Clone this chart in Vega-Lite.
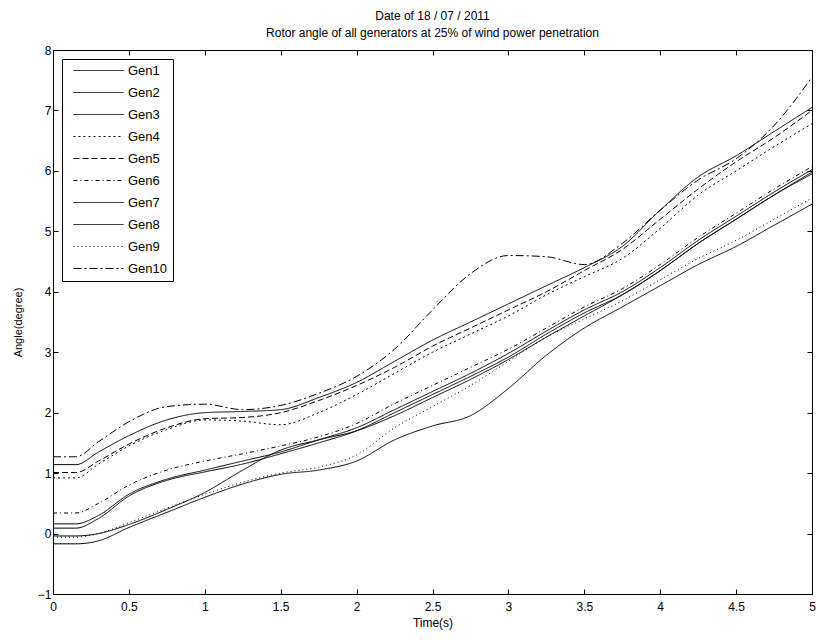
{
  "$schema": "https://vega.github.io/schema/vega-lite/v6.json",
  "width": 759,
  "height": 544,
  "autosize": "none",
  "padding": {"left": 53, "top": 50, "right": 4, "bottom": 46},
  "background": "white",
  "title": {
    "text": ["Date of 18 / 07 / 2011", "Rotor angle of all generators at 25% of wind power penetration"],
    "fontSize": 12, "fontWeight": "normal", "font": "Liberation Sans", "color": "black",
    "lineHeight": 17, "offset": 4, "anchor": "middle"
  },
  "config": {
    "view": {"stroke": "black", "strokeWidth": 1},
    "axis": {
      "domain": false, "grid": false, "tickColor": "black", "tickSize": -5, "tickWidth": 1,
      "labelFont": "Liberation Sans", "labelFontSize": 12, "labelColor": "black",
      "titleFont": "Liberation Sans", "titleFontSize": 12, "titleFontWeight": "normal", "titleColor": "black"
    }
  },
  "data": {"values": [
    {"g":"Gen1","t":0,"v":1.14},{"g":"Gen1","t":0.15,"v":1.14},{"g":"Gen1","t":0.3,"v":1.35},{"g":"Gen1","t":0.5,"v":1.62},{"g":"Gen1","t":0.75,"v":1.88},{"g":"Gen1","t":1,"v":2.0},{"g":"Gen1","t":1.25,"v":2.02},{"g":"Gen1","t":1.5,"v":2.05},{"g":"Gen1","t":1.75,"v":2.25},{"g":"Gen1","t":2,"v":2.5},{"g":"Gen1","t":2.25,"v":2.85},{"g":"Gen1","t":2.5,"v":3.2},{"g":"Gen1","t":2.75,"v":3.5},{"g":"Gen1","t":3,"v":3.8},{"g":"Gen1","t":3.25,"v":4.1},{"g":"Gen1","t":3.5,"v":4.4},{"g":"Gen1","t":3.75,"v":4.75},{"g":"Gen1","t":4,"v":5.35},{"g":"Gen1","t":4.25,"v":5.9},{"g":"Gen1","t":4.5,"v":6.25},{"g":"Gen1","t":4.75,"v":6.65},{"g":"Gen1","t":5,"v":7.05},
    {"g":"Gen2","t":0,"v":0.16},{"g":"Gen2","t":0.15,"v":0.16},{"g":"Gen2","t":0.3,"v":0.3},{"g":"Gen2","t":0.5,"v":0.65},{"g":"Gen2","t":0.75,"v":0.9},{"g":"Gen2","t":1,"v":1.05},{"g":"Gen2","t":1.25,"v":1.2},{"g":"Gen2","t":1.5,"v":1.35},{"g":"Gen2","t":1.75,"v":1.55},{"g":"Gen2","t":2,"v":1.75},{"g":"Gen2","t":2.25,"v":2.05},{"g":"Gen2","t":2.5,"v":2.35},{"g":"Gen2","t":2.75,"v":2.65},{"g":"Gen2","t":3,"v":2.98},{"g":"Gen2","t":3.25,"v":3.35},{"g":"Gen2","t":3.5,"v":3.7},{"g":"Gen2","t":3.75,"v":4.0},{"g":"Gen2","t":4,"v":4.4},{"g":"Gen2","t":4.25,"v":4.85},{"g":"Gen2","t":4.5,"v":5.25},{"g":"Gen2","t":4.75,"v":5.65},{"g":"Gen2","t":5,"v":6.02},
    {"g":"Gen3","t":0,"v":0.09},{"g":"Gen3","t":0.15,"v":0.09},{"g":"Gen3","t":0.3,"v":0.25},{"g":"Gen3","t":0.5,"v":0.62},{"g":"Gen3","t":0.75,"v":0.88},{"g":"Gen3","t":1,"v":1.02},{"g":"Gen3","t":1.25,"v":1.15},{"g":"Gen3","t":1.5,"v":1.32},{"g":"Gen3","t":1.75,"v":1.5},{"g":"Gen3","t":2,"v":1.7},{"g":"Gen3","t":2.25,"v":2.0},{"g":"Gen3","t":2.5,"v":2.3},{"g":"Gen3","t":2.75,"v":2.6},{"g":"Gen3","t":3,"v":2.92},{"g":"Gen3","t":3.25,"v":3.3},{"g":"Gen3","t":3.5,"v":3.65},{"g":"Gen3","t":3.75,"v":3.95},{"g":"Gen3","t":4,"v":4.35},{"g":"Gen3","t":4.25,"v":4.8},{"g":"Gen3","t":4.5,"v":5.2},{"g":"Gen3","t":4.75,"v":5.6},{"g":"Gen3","t":5,"v":5.98},
    {"g":"Gen4","t":0,"v":0.92},{"g":"Gen4","t":0.15,"v":0.92},{"g":"Gen4","t":0.3,"v":1.15},{"g":"Gen4","t":0.5,"v":1.45},{"g":"Gen4","t":0.75,"v":1.72},{"g":"Gen4","t":1,"v":1.88},{"g":"Gen4","t":1.25,"v":1.86},{"g":"Gen4","t":1.5,"v":1.8},{"g":"Gen4","t":1.75,"v":2.0},{"g":"Gen4","t":2,"v":2.3},{"g":"Gen4","t":2.25,"v":2.65},{"g":"Gen4","t":2.5,"v":3.0},{"g":"Gen4","t":2.75,"v":3.3},{"g":"Gen4","t":3,"v":3.6},{"g":"Gen4","t":3.25,"v":3.95},{"g":"Gen4","t":3.5,"v":4.25},{"g":"Gen4","t":3.75,"v":4.55},{"g":"Gen4","t":4,"v":5.05},{"g":"Gen4","t":4.25,"v":5.6},{"g":"Gen4","t":4.5,"v":6.0},{"g":"Gen4","t":4.75,"v":6.4},{"g":"Gen4","t":5,"v":6.78},
    {"g":"Gen5","t":0,"v":1.01},{"g":"Gen5","t":0.15,"v":1.01},{"g":"Gen5","t":0.3,"v":1.2},{"g":"Gen5","t":0.5,"v":1.48},{"g":"Gen5","t":0.75,"v":1.75},{"g":"Gen5","t":1,"v":1.9},{"g":"Gen5","t":1.25,"v":1.92},{"g":"Gen5","t":1.5,"v":2.0},{"g":"Gen5","t":1.75,"v":2.2},{"g":"Gen5","t":2,"v":2.45},{"g":"Gen5","t":2.25,"v":2.75},{"g":"Gen5","t":2.5,"v":3.1},{"g":"Gen5","t":2.75,"v":3.4},{"g":"Gen5","t":3,"v":3.7},{"g":"Gen5","t":3.25,"v":4.0},{"g":"Gen5","t":3.5,"v":4.35},{"g":"Gen5","t":3.75,"v":4.7},{"g":"Gen5","t":4,"v":5.2},{"g":"Gen5","t":4.25,"v":5.7},{"g":"Gen5","t":4.5,"v":6.15},{"g":"Gen5","t":4.75,"v":6.55},{"g":"Gen5","t":5,"v":7.0},
    {"g":"Gen6","t":0,"v":0.34},{"g":"Gen6","t":0.15,"v":0.34},{"g":"Gen6","t":0.3,"v":0.5},{"g":"Gen6","t":0.5,"v":0.8},{"g":"Gen6","t":0.75,"v":1.05},{"g":"Gen6","t":1,"v":1.2},{"g":"Gen6","t":1.25,"v":1.32},{"g":"Gen6","t":1.5,"v":1.45},{"g":"Gen6","t":1.75,"v":1.6},{"g":"Gen6","t":2,"v":1.82},{"g":"Gen6","t":2.25,"v":2.15},{"g":"Gen6","t":2.5,"v":2.45},{"g":"Gen6","t":2.75,"v":2.75},{"g":"Gen6","t":3,"v":3.05},{"g":"Gen6","t":3.25,"v":3.4},{"g":"Gen6","t":3.5,"v":3.75},{"g":"Gen6","t":3.75,"v":4.05},{"g":"Gen6","t":4,"v":4.45},{"g":"Gen6","t":4.25,"v":4.9},{"g":"Gen6","t":4.5,"v":5.3},{"g":"Gen6","t":4.75,"v":5.7},{"g":"Gen6","t":5,"v":6.07},
    {"g":"Gen7","t":0,"v":-0.04},{"g":"Gen7","t":0.15,"v":-0.04},{"g":"Gen7","t":0.3,"v":0.0},{"g":"Gen7","t":0.5,"v":0.15},{"g":"Gen7","t":0.75,"v":0.4},{"g":"Gen7","t":1,"v":0.68},{"g":"Gen7","t":1.25,"v":1.05},{"g":"Gen7","t":1.5,"v":1.38},{"g":"Gen7","t":1.75,"v":1.55},{"g":"Gen7","t":2,"v":1.7},{"g":"Gen7","t":2.25,"v":1.95},{"g":"Gen7","t":2.5,"v":2.25},{"g":"Gen7","t":2.75,"v":2.55},{"g":"Gen7","t":3,"v":2.88},{"g":"Gen7","t":3.25,"v":3.25},{"g":"Gen7","t":3.5,"v":3.6},{"g":"Gen7","t":3.75,"v":3.95},{"g":"Gen7","t":4,"v":4.35},{"g":"Gen7","t":4.25,"v":4.8},{"g":"Gen7","t":4.5,"v":5.2},{"g":"Gen7","t":4.75,"v":5.6},{"g":"Gen7","t":5,"v":5.95},
    {"g":"Gen8","t":0,"v":-0.17},{"g":"Gen8","t":0.15,"v":-0.17},{"g":"Gen8","t":0.3,"v":-0.12},{"g":"Gen8","t":0.5,"v":0.1},{"g":"Gen8","t":0.75,"v":0.35},{"g":"Gen8","t":1,"v":0.6},{"g":"Gen8","t":1.25,"v":0.82},{"g":"Gen8","t":1.5,"v":0.98},{"g":"Gen8","t":1.75,"v":1.05},{"g":"Gen8","t":2,"v":1.2},{"g":"Gen8","t":2.25,"v":1.55},{"g":"Gen8","t":2.5,"v":1.78},{"g":"Gen8","t":2.75,"v":1.95},{"g":"Gen8","t":3,"v":2.4},{"g":"Gen8","t":3.25,"v":2.95},{"g":"Gen8","t":3.5,"v":3.4},{"g":"Gen8","t":3.75,"v":3.75},{"g":"Gen8","t":4,"v":4.1},{"g":"Gen8","t":4.25,"v":4.45},{"g":"Gen8","t":4.5,"v":4.75},{"g":"Gen8","t":4.75,"v":5.1},{"g":"Gen8","t":5,"v":5.45},
    {"g":"Gen9","t":0,"v":-0.06},{"g":"Gen9","t":0.15,"v":-0.06},{"g":"Gen9","t":0.3,"v":0.0},{"g":"Gen9","t":0.5,"v":0.18},{"g":"Gen9","t":0.75,"v":0.42},{"g":"Gen9","t":1,"v":0.65},{"g":"Gen9","t":1.25,"v":0.85},{"g":"Gen9","t":1.5,"v":1.0},{"g":"Gen9","t":1.75,"v":1.1},{"g":"Gen9","t":2,"v":1.3},{"g":"Gen9","t":2.25,"v":1.75},{"g":"Gen9","t":2.5,"v":2.1},{"g":"Gen9","t":2.75,"v":2.45},{"g":"Gen9","t":3,"v":2.85},{"g":"Gen9","t":3.25,"v":3.25},{"g":"Gen9","t":3.5,"v":3.55},{"g":"Gen9","t":3.75,"v":3.85},{"g":"Gen9","t":4,"v":4.2},{"g":"Gen9","t":4.25,"v":4.55},{"g":"Gen9","t":4.5,"v":4.85},{"g":"Gen9","t":4.75,"v":5.2},{"g":"Gen9","t":5,"v":5.55},
    {"g":"Gen10","t":0,"v":1.27},{"g":"Gen10","t":0.15,"v":1.27},{"g":"Gen10","t":0.3,"v":1.52},{"g":"Gen10","t":0.5,"v":1.85},{"g":"Gen10","t":0.75,"v":2.1},{"g":"Gen10","t":1,"v":2.14},{"g":"Gen10","t":1.25,"v":2.05},{"g":"Gen10","t":1.5,"v":2.12},{"g":"Gen10","t":1.75,"v":2.32},{"g":"Gen10","t":2,"v":2.6},{"g":"Gen10","t":2.25,"v":3.05},{"g":"Gen10","t":2.5,"v":3.7},{"g":"Gen10","t":2.75,"v":4.3},{"g":"Gen10","t":3,"v":4.6},{"g":"Gen10","t":3.25,"v":4.58},{"g":"Gen10","t":3.5,"v":4.45},{"g":"Gen10","t":3.75,"v":4.8},{"g":"Gen10","t":4,"v":5.35},{"g":"Gen10","t":4.25,"v":5.85},{"g":"Gen10","t":4.5,"v":6.2},{"g":"Gen10","t":4.75,"v":6.75},{"g":"Gen10","t":5,"v":7.55}
  ]},
  "layer": [
    {
      "mark": {"type": "line", "interpolate": "monotone", "color": "black", "strokeWidth": 1},
      "encoding": {
        "x": {"field": "t", "type": "quantitative", "scale": {"domain": [0, 5], "nice": false, "zero": false},
          "axis": {"orient": "bottom", "values": [0,0.5,1,1.5,2,2.5,3,3.5,4,4.5,5], "format": "~g", "labelPadding": 12, "title": "Time(s)", "titlePadding": 5, "labelFlush": false}},
        "y": {"field": "v", "type": "quantitative", "scale": {"domain": [-1, 8], "nice": false, "zero": false},
          "axis": {"orient": "left", "values": [-1,0,1,2,3,4,5,6,7,8], "labelPadding": 7, "title": "Angle(degree)", "titlePadding": 14, "titleFontSize": 11, "labelFlush": false}},
        "strokeDash": {"field": "g", "type": "nominal",
          "scale": {"domain": ["Gen1","Gen2","Gen3","Gen4","Gen5","Gen6","Gen7","Gen8","Gen9","Gen10"],
            "range": [[1,0],[1,0],[1,0],[2,3],[6,3],[4,3,1,3],[1,0],[1,0],[1,3],[8,3,2,3]]},
          "legend": {"orient": "none", "legendX": 9, "legendY": 9, "title": null,
            "strokeColor": "black", "fillColor": "white", "padding": 5,
            "symbolType": "M0,0H10", "symbolSize": 100, "symbolStrokeColor": "black", "symbolStrokeWidth": 1,
            "labelFont": "Liberation Sans", "labelFontSize": 13, "labelColor": "black",
            "rowPadding": 8, "labelOffset": 48}}
      }
    },
    {
      "mark": {"type": "point", "opacity": 0},
      "encoding": {
        "x": {"field": "t", "type": "quantitative", "axis": {"orient": "top", "values": [0,0.5,1,1.5,2,2.5,3,3.5,4,4.5,5], "labels": false, "title": null}},
        "y": {"field": "v", "type": "quantitative", "axis": {"orient": "right", "values": [-1,0,1,2,3,4,5,6,7,8], "labels": false, "title": null}}
      }
    }
  ],
  "resolve": {"axis": {"x": "independent", "y": "independent"}}
}
